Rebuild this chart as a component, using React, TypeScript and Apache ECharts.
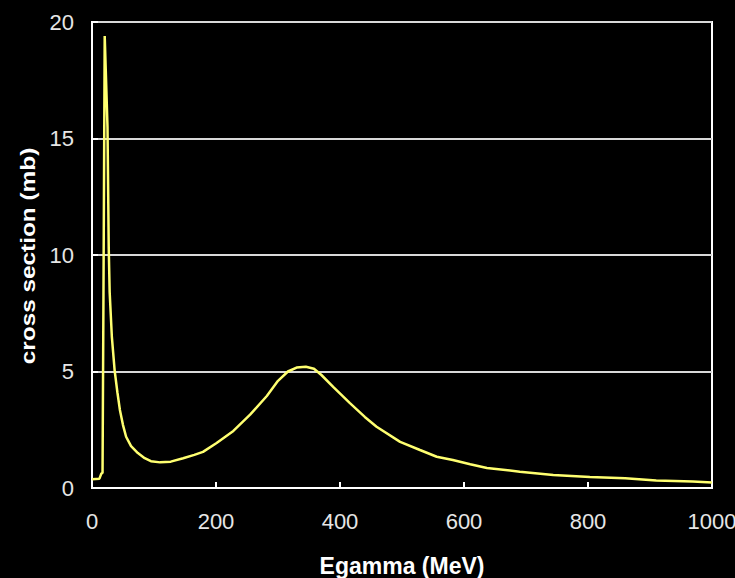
import React, { useEffect, useRef } from "react";
import * as echarts from "echarts";

const energyMeV = [0, 12, 15, 17, 18.5, 20.5, 25, 27, 28.5, 32, 36.5, 41, 45, 50, 55, 63, 74, 85, 95, 110, 127, 147, 165, 179, 201, 228, 255, 282, 300, 316, 330, 345, 358, 370, 389, 416, 440, 459, 497, 529, 556, 582, 610, 637, 690, 744, 803, 860, 910, 969, 1000];
const crossSectionMb = [0.38, 0.4, 0.62, 0.65, 8.3, 19.4, 15.5, 10.3, 8.4, 6.5, 5.05, 4.1, 3.35, 2.7, 2.2, 1.8, 1.5, 1.28, 1.15, 1.1, 1.13, 1.28, 1.42, 1.55, 1.93, 2.45, 3.15, 3.95, 4.6, 5.0, 5.17, 5.2, 5.12, 4.85, 4.34, 3.64, 3.05, 2.63, 1.98, 1.63, 1.34, 1.2, 1.02, 0.86, 0.7, 0.56, 0.47, 0.42, 0.32, 0.28, 0.24];

const xTitle = "Egamma (MeV)";
const yTitle = "cross section (mb)";

export default function App() {
  const ref = useRef<HTMLDivElement>(null);
  useEffect(() => {
    if (!ref.current) return;
    const chart = echarts.init(ref.current, null, { renderer: "svg" });
    const font = "'Liberation Sans', Arial, sans-serif";
    chart.setOption({
      animation: false,
      backgroundColor: "#000",
      grid: {
        left: 92,
        top: 22,
        width: 620,
        height: 466,
        show: true,
        borderColor: "#ffffff",
        borderWidth: 2,
        backgroundColor: "transparent",
        containLabel: false,
        outerBoundsMode: "none",
      },
      graphic: [
        {
          type: "text",
          x: 28,
          y: 256,
          rotation: Math.PI / 2,
          scaleX: 1.16,
          style: {
            text: yTitle,
            fill: "#ffffff",
            font: `bold 21px ${font}`,
            align: "center",
            verticalAlign: "middle",
          },
        },
      ],
      xAxis: {
        type: "value",
        min: 0,
        max: 1000,
        interval: 200,
        name: xTitle,
        nameLocation: "middle",
        nameGap: 66,
        nameTextStyle: { color: "#ffffff", fontFamily: font, fontWeight: "bold", fontSize: 23 },
        axisLine: { show: true, lineStyle: { color: "#ffffff", width: 2 } },
        axisTick: { show: true, inside: true, length: 6, lineStyle: { color: "#ffffff", width: 2 } },
        axisLabel: {
          color: "#e6e6e6",
          fontFamily: font,
          fontSize: 22,
          margin: 22,
          formatter: (v: number) => String(v),
        },
        splitLine: { show: false },
      },
      yAxis: {
        type: "value",
        min: 0,
        max: 20,
        interval: 5,
        axisLine: { show: true, lineStyle: { color: "#ffffff", width: 2 } },
        axisTick: { show: true, inside: true, length: 6, lineStyle: { color: "#ffffff", width: 2 } },
        axisLabel: { color: "#e6e6e6", fontFamily: font, fontSize: 22, margin: 18 },
        splitLine: { show: true, lineStyle: { color: "#d8d8d8", width: 2 } },
      },
      series: [
        {
          type: "line",
          data: energyMeV.map((e, i) => [e, crossSectionMb[i]]),
          showSymbol: false,
          lineStyle: { color: "#ffff70", width: 2.5 },
          itemStyle: { color: "#ffff70" },
        },
      ],
    });
    return () => chart.dispose();
  }, []);
  return (
    <div
      ref={ref}
      style={{ position: "fixed", left: 0, top: 0, width: 735, height: 578, background: "#000" }}
    />
  );
}
